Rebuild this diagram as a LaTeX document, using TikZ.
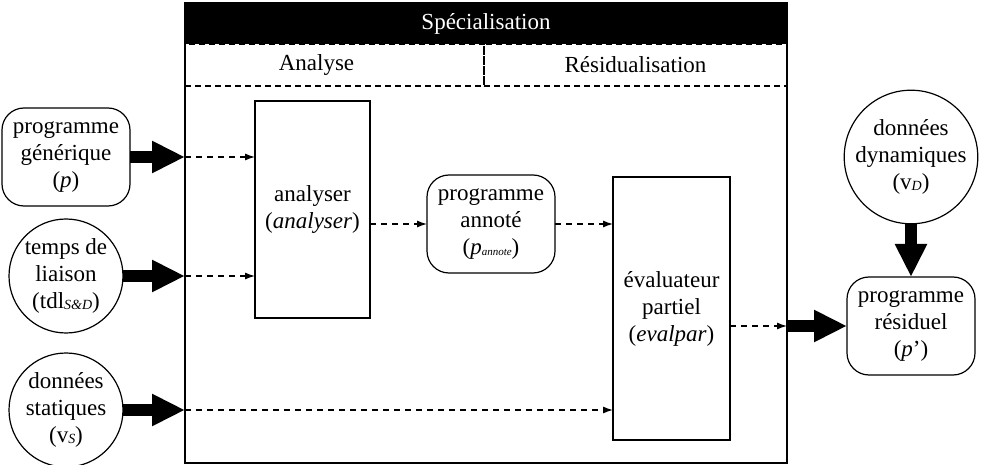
\documentclass[tikz,border=0pt]{standalone}
\usepackage{fontspec}
\setmainfont{Liberation Serif}
\usetikzlibrary{arrows.meta}

\begin{document}
\begin{tikzpicture}[x=1pt,y=-1pt,
    every node/.style={font=\fontsize{23}{27}\selectfont, align=center, inner sep=0pt, outer sep=0pt},
    donnee/.style={draw, line width=1.2pt, rounded corners=22pt, minimum width=128pt, minimum height=98pt},
    rond/.style={draw, line width=1.2pt, circle, minimum size=114pt},
    outil/.style={draw, line width=1.2pt},
    phase/.style={draw, line width=1.2pt, dash pattern=on 6pt off 4pt, minimum height=42pt},
    flux/.style={line width=1.2pt, dash pattern=on 6pt off 5pt, -{Latex[length=10pt,width=7pt]}},
    gros/.style={line width=12pt, -{Triangle[length=33pt,width=30pt]}}
  ]

    \useasboundingbox (0,0) rectangle (989,465);

    % Le cadre de la specialisation
    \node[outil, minimum width=602pt, minimum height=460pt] (spec) at (486,233) {};
    \node[fill=black, text=white, minimum width=602pt, minimum height=41pt, anchor=north west] (titre) at (spec.north west) {Spécialisation};
    \node[phase, minimum width=299pt, anchor=north west] (phaseA) at (titre.south west) {\hspace*{-36pt}Analyse};
    \node[phase, minimum width=303pt, anchor=north west] (phaseR) at (phaseA.north east) {Résidualisation};

    % Les entrees
    \node[donnee] (gen) at (66,157) {programme\\générique\\(\textit{p})};
    \node[rond] (tdl) at (66,276) {temps de\\liaison\\(tdl\raisebox{-1pt}{\fontsize{14}{14}\selectfont\textit{S\&D}})};
    \node[rond] (stat) at (66,410) {données\\statiques\\(v\raisebox{-1pt}{\fontsize{14}{14}\selectfont\textit{S}})};

    % Les outils
    \node[outil, minimum width=115pt, minimum height=217pt] (analyseur) at (312.5,209.5) {analyser\\(\textit{analyser})};
    \node[donnee] (anno) at (491,224) {programme\\annoté\\(\textit{p}\raisebox{-1pt}{\fontsize{11}{11}\selectfont\textit{annote}})};
    \node[outil, minimum width=117pt, minimum height=263pt] (evalpar) at (671.5,308.5) {évaluateur\\partiel\\(\textit{evalpar})};

    % Les sorties
    \node[rond] (dyn) at (911,157) {données\\dynamiques\\(v\raisebox{-1pt}{\fontsize{14}{14}\selectfont\textit{D}})};
    \node[donnee] (pres) at (911,326) {programme\\résiduel\\(\textit{p}’)};

    % Fleches epaisses
    \draw[gros] (gen.east) -- (gen.east -| spec.west);
    \draw[gros] (tdl.east) -- (tdl.east -| spec.west);
    \draw[gros] (stat.east) -- (stat.east -| spec.west);
    \draw[gros] (pres.west -| spec.east) -- (pres.west);
    \draw[gros] (dyn.south) -- (pres.north);

    % Fleches pointillees
    \draw[flux] (gen.east -| spec.west) -- (gen.east -| analyseur.west);
    \draw[flux] (tdl.east -| spec.west) -- (tdl.east -| analyseur.west);
    \draw[flux] (anno.west -| analyseur.east) -- (anno.west);
    \draw[flux] (anno.east) -- (anno.east -| evalpar.west);
    \draw[flux] (stat.east -| spec.west) -- (stat.east -| evalpar.west);
    \draw[flux] (pres.west -| evalpar.east) -- (pres.west -| spec.east);

\end{tikzpicture}
\end{document}
